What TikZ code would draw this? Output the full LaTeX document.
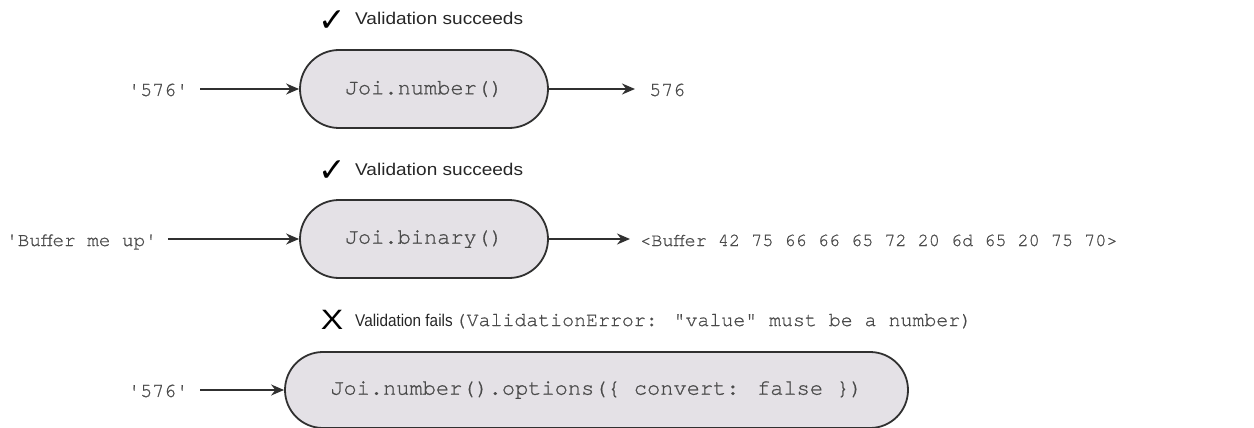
\documentclass[tikz,border=0pt]{standalone}
\usepackage{fontspec}
\setmainfont{Liberation Sans}
\newfontfamily\lblfont[FakeStretch=1.12]{Liberation Sans}
\newfontfamily\lblnarrow[FakeStretch=0.9]{Liberation Sans}
\newfontfamily\xfont[FakeStretch=1.2]{Liberation Sans}
\newfontfamily\monofont[FakeBold=0.8]{texgyrecursor-regular.otf}
\newfontfamily\symfont{DejaVu Sans}
\usetikzlibrary{shapes.misc,arrows.meta}
\definecolor{boxfill}{HTML}{E4E1E6}
\definecolor{boxline}{HTML}{303030}
\definecolor{monotxt}{HTML}{4A4A4A}
\tikzset{
  stadium/.style={rounded rectangle, draw=boxline, line width=1.8pt, fill=boxfill,
    inner sep=0pt, minimum height=78pt, font=\monofont\fontsize{22}{22}\selectfont, text=monotxt},
  io/.style={inner sep=0pt, anchor=base west, font=\monofont\fontsize{20}{20}\selectfont, text=monotxt},
  conn/.style={draw=boxline, line width=1.5pt, -{Stealth[length=13pt,width=11pt]}},
  lbl/.style={inner sep=0pt, anchor=base west, font=\lblfont\fontsize{17}{17}\selectfont, text=black!85},
  symmark/.style={inner sep=0pt, font=\symfont\fontsize{33}{33}\selectfont}
}
\begin{document}
\begin{tikzpicture}[x=1pt,y=-1pt]
\useasboundingbox (0,0) rectangle (1254,428);
% row 1
\node[symmark] (chk1) at (332,21) {✓};
\node[lbl] (lab1) at (355,25) {Validation succeeds};
\node[stadium, minimum width=248pt] (n1) at (424,89) {Joi.number()};
\node[io] (in1) at (128,96) {'576'};
\node[io] (out1) at (649,96) {576};
\draw[conn] ([xshift=12pt]in1.east |- n1.west) -- (n1.west);
\draw[conn] (n1.east) -- ([xshift=-14pt]out1.west |- n1.east);
% row 2
\node[symmark] (chk2) at (332,171) {✓};
\node[lbl] (lab2) at (355,175) {Validation succeeds};
\node[stadium, minimum width=248pt] (n2) at (424,239) {Joi.binary()};
\node[io, font=\monofont\fontsize{19.3}{19.3}\selectfont] (in2) at (6,246) {'Buffer me up'};
\node[io, font=\monofont\fontsize{18.5}{18.5}\selectfont] (out2) at (640,246) {<Buffer 42 75 66 66 65 72 20 6d 65 20 75 70>};
\draw[conn] ([xshift=11pt]in2.east |- n2.west) -- (n2.west);
\draw[conn] (n2.east) -- ([xshift=-10pt]out2.west |- n2.east);
% row 3
\node[inner sep=0pt, font=\xfont\fontsize{28}{28}\selectfont] (x3) at (332,320) {X};
\node[lbl, font=\lblnarrow\fontsize{17}{17}\selectfont] (lab3) at (355,326) {Validation fails\hspace{2pt}\textcolor{monotxt}{\monofont\fontsize{19.9}{19.9}\selectfont (ValidationError: "value" must be a number)}};
\node[stadium, minimum width=623pt, minimum height=76pt] (n3) at (596.5,390) {Joi.number().options(\{ convert: false \})};
\node[io] (in3) at (128,397) {'576'};
\draw[conn] ([xshift=12pt]in3.east |- n3.west) -- (n3.west);
\end{tikzpicture}
\end{document}
